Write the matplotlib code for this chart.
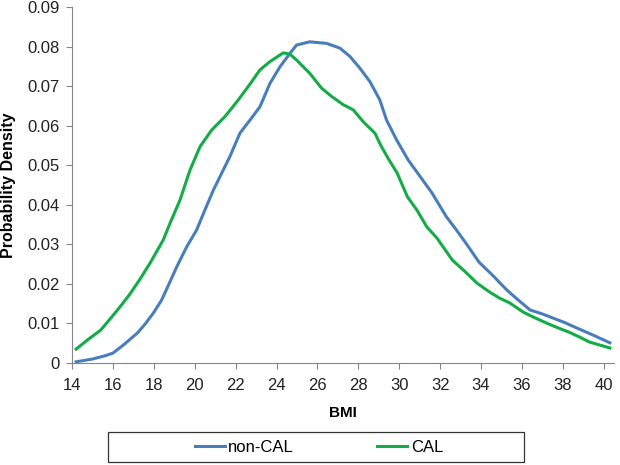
import matplotlib.pyplot as plt
from matplotlib.patches import Rectangle
from matplotlib.ticker import FuncFormatter

plt.rcParams['font.family'] = ['Liberation Sans', 'DejaVu Sans']

# non-CAL curve (BMI, density)
noncal_bmi = [14.2, 15.0, 15.6, 16.0, 16.5, 17.2, 17.6, 18.0, 18.38, 18.7, 19.12, 19.61,
              20.09, 20.5, 20.91, 21.32, 21.72, 22.21, 22.7, 23.19, 23.68, 24.17, 24.66, 24.98,
              25.63, 26.45, 27.1, 27.59, 28.08, 28.57, 29.05, 29.38, 29.87, 30.44, 30.86, 31.6,
              32.3, 32.8, 33.3, 33.9, 34.6, 35.25, 35.8, 36.4, 37.0, 37.5, 38.1, 38.7, 39.5, 40.3]
noncal_pd = [0.0003, 0.0010, 0.0018, 0.0025, 0.0045, 0.0076, 0.0100, 0.0128, 0.0159, 0.0195,
             0.0243, 0.0294, 0.0336, 0.0387, 0.0437, 0.0480, 0.0522, 0.0581, 0.0614, 0.0648,
             0.0707, 0.0749, 0.0783, 0.0804, 0.0812, 0.0808, 0.0796, 0.0775, 0.0745, 0.0711,
             0.0665, 0.0614, 0.0564, 0.0513, 0.0483, 0.0430, 0.0370, 0.0336, 0.0300, 0.0255,
             0.0220, 0.0185, 0.0160, 0.0134, 0.0124, 0.0114, 0.0102, 0.0088, 0.0070, 0.0051]

# CAL curve (BMI, density)
cal_bmi = [14.2, 14.8, 15.4, 16.0, 16.35, 16.8, 17.3, 17.81, 18.46, 18.79, 19.28, 19.77,
           20.26, 20.83, 21.48, 22.13, 22.7, 23.19, 23.68, 24.33, 24.65, 24.98, 25.63, 26.2,
           26.69, 27.26, 27.75, 28.24, 28.81, 29.13, 29.46, 29.9, 30.4, 30.86, 31.35, 31.84,
           32.6, 33.2, 33.8, 34.4, 34.9, 35.4, 36.05, 36.6, 37.2, 37.8, 38.3, 38.8, 39.3, 40.3]
cal_pd = [0.0035, 0.0060, 0.0083, 0.0120, 0.0142, 0.0172, 0.0210, 0.0252, 0.0311, 0.0353,
          0.0412, 0.0488, 0.0547, 0.0589, 0.0623, 0.0665, 0.0705, 0.0741, 0.0762, 0.0784,
          0.0781, 0.0766, 0.0732, 0.0695, 0.0674, 0.0653, 0.0640, 0.0610, 0.0581, 0.0547,
          0.0517, 0.0480, 0.0420, 0.0387, 0.0344, 0.0316, 0.0260, 0.0232, 0.0202, 0.0180,
          0.0164, 0.0152, 0.0129, 0.0115, 0.0101, 0.0088, 0.0078, 0.0066, 0.0053, 0.0038]

fig = plt.figure(figsize=(6.2, 4.65), dpi=100)
ax = fig.add_axes([72 / 620, 1 - 363 / 465, 542 / 620, 356 / 465])

ax.plot(noncal_bmi, noncal_pd, color='#4a7ebb', lw=2.2, label='non-CAL',
        solid_joinstyle='round')
ax.plot(cal_bmi, cal_pd, color='#13ac46', lw=2.2, label='CAL',
        solid_joinstyle='round')

ax.set_xlim(14, 40.5)
ax.set_ylim(0, 0.09)
ax.set_xticks(range(14, 41, 2))
ax.set_yticks([i / 100 for i in range(10)])
ax.yaxis.set_major_formatter(FuncFormatter(lambda v, p: '0' if v == 0 else f'{v:.2f}'))

for s in ['top', 'right']:
    ax.spines[s].set_visible(False)
for s in ['left', 'bottom']:
    ax.spines[s].set_color('#868686')
ax.tick_params(colors='#868686', labelcolor='#222222', labelsize=12, length=4)
ax.tick_params(axis='x', pad=7)
ax.tick_params(axis='y', pad=5)

ax.set_xlabel('BMI', fontweight='bold', fontsize=11, labelpad=9)
ax.set_ylabel('Probability Density', fontweight='bold', fontsize=11.5, labelpad=8)

# legend box
fig.patches.append(Rectangle((108 / 620, 1 - 462 / 465), 416 / 620, 30 / 465,
                             transform=fig.transFigure, fill=False,
                             edgecolor='#333333', linewidth=0.9))
fig.legend(loc='center', bbox_to_anchor=(319 / 620, 1 - 447 / 465), ncol=2,
           fontsize=12, frameon=False, handlelength=1.8, handletextpad=0.2,
           columnspacing=5.0)

fig.savefig('out.png', dpi=100)
